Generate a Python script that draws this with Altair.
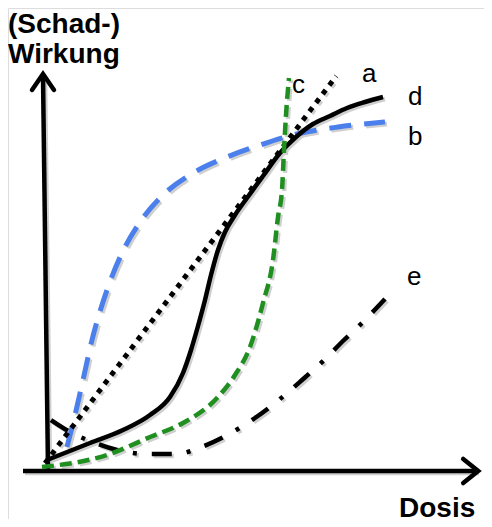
import altair as alt
import pandas as pd

# ---- curve values (dose, effect) ----
a_x = [0.0, 7.28]
a_y = [0.02, 9.7]

b_x = [0.55, 0.75, 0.95, 1.175, 1.55, 1.925, 2.375, 2.95, 3.7, 4.55, 5.375, 6.3, 7.325, 8.5]
b_y = [0.425, 1.225, 2.1, 3.1, 4.35, 5.275, 6.05, 6.725, 7.275, 7.675, 7.975, 8.25, 8.425, 8.55]

c_x = [-0.075, 1.55, 2.625, 3.45, 4.3, 4.75, 5.125, 5.45, 5.7, 5.825, 5.925, 5.975, 6.025, 6.1]
c_y = [-0.075, 0.225, 0.675, 1.025, 1.65, 2.225, 2.925, 4.025, 5.1, 6.175, 6.85, 7.85, 8.725, 9.65]

d_x = [0.05, 1.125, 1.95, 2.625, 3.125, 3.45, 3.65, 3.825, 4.0, 4.15, 4.325, 4.5, 4.75,
       5.05, 5.45, 5.875, 6.275, 6.7, 7.125, 7.55, 8.0, 8.45]
d_y = [0.1, 0.525, 0.85, 1.225, 1.675, 2.275, 2.85, 3.45, 4.1, 4.725, 5.35, 5.8, 6.225,
       6.65, 7.2, 7.775, 8.175, 8.5, 8.7, 8.9, 9.05, 9.175]

e_x = [0.15, 0.675, 1.125, 1.8, 2.525, 3.275, 3.975, 4.65, 5.25, 5.875, 6.425, 6.925, 7.475, 7.975, 8.5]
e_y = [1.1, 0.775, 0.575, 0.35, 0.25, 0.25, 0.45, 0.775, 1.15, 1.625, 2.1, 2.55, 3.1, 3.575, 4.125]

# curve labels
label_text = ["a", "c", "d", "b", "e"]
label_x = [7.925, 6.175, 9.075, 9.075, 9.05]
label_y = [9.55, 9.275, 8.975, 7.975, 4.475]

# axis titles
title_text = ["(Schad-)", "Wirkung", "Dosis"]
title_x = [-0.925, -0.925, 8.85]
title_y = [10.775, 10.025, -1.325]

# axis lines (start / end)
axis_x1 = [-0.55, 0.075]
axis_y1 = [-0.175, -0.15]
axis_x2 = [10.8, -0.05]
axis_y2 = [-0.175, 9.7]

XS = alt.Scale(domain=[-0.925, 10.975], nice=False, zero=False)
YS = alt.Scale(domain=[-1.375, 11.4], nice=False, zero=False)

SX, SY = 0.05, -0.05  # drop-shadow shift


def frame(xs, ys):
    return pd.DataFrame({"dose": xs, "effect": ys, "order": list(range(len(xs)))})


def curve(xs, ys, color, width, dash=None, shadow=False):
    mk = dict(color=color, strokeWidth=width, interpolate="monotone", strokeCap="butt")
    if dash:
        mk["strokeDash"] = dash
    ch = alt.Chart(frame(xs, ys))
    if shadow:
        mk["color"] = "#cfcfcf"
        ch = ch.transform_calculate(px=f"datum.dose + {SX}", py=f"datum.effect + {SY}")
        xf, yf = "px:Q", "py:Q"
    else:
        xf, yf = "dose:Q", "effect:Q"
    return ch.mark_line(**mk).encode(
        x=alt.X(xf, scale=XS, axis=None),
        y=alt.Y(yf, scale=YS, axis=None),
        order="order:Q",
    )


BLUE = "#4a7fec"
GREEN = "#1f8f1f"

specs = [
    (b_x, b_y, BLUE, 5, [22, 13]),
    (e_x, e_y, "black", 4.5, [20, 15, 4, 15]),
    (a_x, a_y, "black", 5, [5, 6]),
    (d_x, d_y, "black", 4.5, None),
    (c_x, c_y, GREEN, 4.5, [12, 6]),
]

layers = []
for xs, ys, col, w, dash in specs:
    layers.append(curve(xs, ys, col, w, dash, shadow=True))
for xs, ys, col, w, dash in specs:
    layers.append(curve(xs, ys, col, w, dash))

axis_df = pd.DataFrame({"x1": axis_x1, "y1": axis_y1, "x2": axis_x2, "y2": axis_y2})
axis_shadow = alt.Chart(axis_df).transform_calculate(
    sx1=f"datum.x1 + {SX}", sy1=f"datum.y1 + {SY}", sx2=f"datum.x2 + {SX}", sy2=f"datum.y2 + {SY}"
).mark_rule(color="#cfcfcf", strokeWidth=4.5).encode(
    x=alt.X("sx1:Q", scale=XS, axis=None), y=alt.Y("sy1:Q", scale=YS, axis=None),
    x2="sx2:Q", y2="sy2:Q",
)
axis_lines = alt.Chart(axis_df).mark_rule(color="black", strokeWidth=4.5).encode(
    x=alt.X("x1:Q", scale=XS, axis=None), y=alt.Y("y1:Q", scale=YS, axis=None),
    x2="x2:Q", y2="y2:Q",
)

tip_df = pd.DataFrame({"x": [axis_x2[0] + 0.03], "y": [axis_y2[0]]})
right_head = alt.Chart(tip_df).mark_point(
    shape="M-1.25,-1L0,0L-1.25,1", size=576, filled=False, stroke="black",
    strokeWidth=4.5, strokeJoin="miter", strokeCap="round", opacity=1,
).encode(x=alt.X("x:Q", scale=XS, axis=None), y=alt.Y("y:Q", scale=YS, axis=None))

tip_df2 = pd.DataFrame({"x": [axis_x2[1]], "y": [axis_y2[1] + 0.05]})
up_head = alt.Chart(tip_df2).mark_point(
    shape="M-1,1.45L0,0L1,1.45", size=484, filled=False, stroke="black",
    strokeWidth=4.5, strokeJoin="miter", strokeCap="round", opacity=1,
).encode(x=alt.X("x:Q", scale=XS, axis=None), y=alt.Y("y:Q", scale=YS, axis=None))

lab_df = pd.DataFrame({"t": label_text, "x": label_x, "y": label_y})
labels = alt.Chart(lab_df).mark_text(
    font="Liberation Sans", fontSize=26, align="left", baseline="alphabetic", color="black"
).encode(x=alt.X("x:Q", scale=XS, axis=None), y=alt.Y("y:Q", scale=YS, axis=None), text="t:N")

tit_df = pd.DataFrame({"t": title_text, "x": title_x, "y": title_y})
titles = alt.Chart(tit_df).mark_text(
    font="Liberation Sans", fontSize=28, fontWeight="bold", align="left",
    baseline="alphabetic", color="black"
).encode(x=alt.X("x:Q", scale=XS, axis=None), y=alt.Y("y:Q", scale=YS, axis=None), text="t:N")

chart = alt.layer(
    axis_shadow, *layers[:5], axis_lines, right_head, up_head, *layers[5:], labels, titles
).properties(
    width=476, height=511, padding=0,
    autosize=alt.AutoSizeParams(type="none"),
).configure_view(stroke=None).configure(background="white")

chart.save("out.html", embed_options={"renderer": "svg", "actions": False})
